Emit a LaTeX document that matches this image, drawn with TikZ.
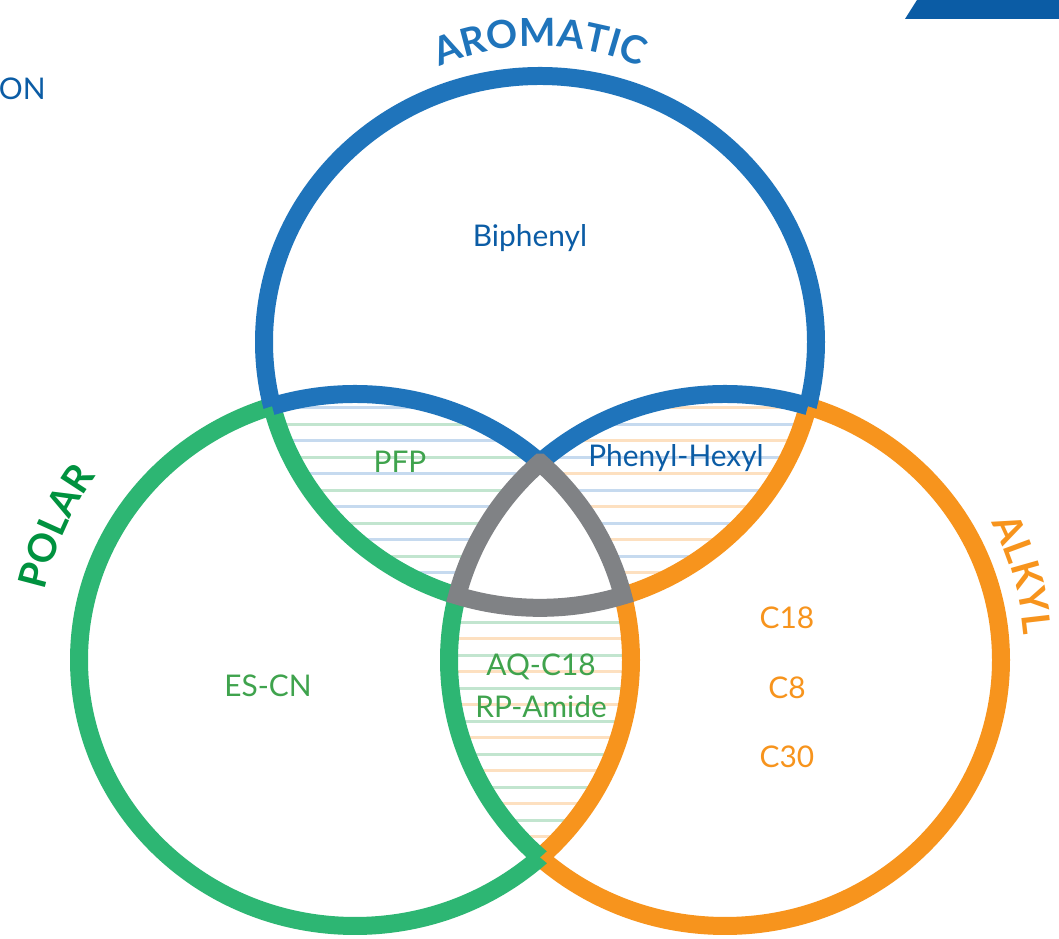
\documentclass[tikz,border=0pt]{standalone}
\usepackage{fontspec}
\setmainfont{Lato}
\usetikzlibrary{decorations.text}

\definecolor{aromblue}{HTML}{1F74BB}
\definecolor{textblue}{HTML}{0B5CA5}
\definecolor{polgreen}{HTML}{2DB673}
\definecolor{textgreen}{HTML}{3FA34D}
\definecolor{titlegreen}{HTML}{00923F}
\definecolor{alkorange}{HTML}{F7941D}
\definecolor{centgray}{HTML}{808285}
\definecolor{stripeblue}{HTML}{C6DAEF}
\definecolor{stripegreen}{HTML}{C2E5CF}
\definecolor{stripeorange}{HTML}{FDE0C0}

\newcommand{\blueE}{(540,597) ellipse [x radius=276, y radius=266]}
\newcommand{\greenE}{(355,279) ellipse [x radius=276, y radius=266]}
\newcommand{\orangeE}{(725,279) ellipse [x radius=276, y radius=266]}
\newcommand{\outside}{(-100,-100) rectangle (1160,1040)}

\begin{document}
\begin{tikzpicture}[x=0.02cm, y=0.02cm,
    ring/.style={line width=0.36cm},
    stripe/.style={line width=0.06cm},
    setname/.style={font=\fontsize{17}{20}\selectfont}]

\fill[white] (0,0) rectangle (1059,939);
\useasboundingbox (0,0) rectangle (1059,939);

% stripes in the two-way overlaps
\begin{scope}[even odd rule]
    \clip \blueE; \clip \greenE; \clip \outside \orangeE;
    \foreach \y in {531,498,...,40} \draw[stripe, stripeblue] (0,\y) -- (1059,\y);
    \foreach \y in {514.5,481.5,...,40} \draw[stripe, stripegreen] (0,\y) -- (1059,\y);
\end{scope}
\begin{scope}[even odd rule]
    \clip \blueE; \clip \orangeE; \clip \outside \greenE;
    \foreach \y in {531,498,...,40} \draw[stripe, stripeorange] (0,\y) -- (1059,\y);
    \foreach \y in {514.5,481.5,...,40} \draw[stripe, stripeblue] (0,\y) -- (1059,\y);
\end{scope}
\begin{scope}[even odd rule]
    \clip \greenE; \clip \orangeE; \clip \outside \blueE;
    \foreach \y in {531,498,...,40} \draw[stripe, stripeorange] (0,\y) -- (1059,\y);
    \foreach \y in {514.5,481.5,...,40} \draw[stripe, stripegreen] (0,\y) -- (1059,\y);
\end{scope}

% orange parts of the rings
\begin{scope}[even odd rule]
    \clip \outside \blueE; \clip \outside \greenE;
    \draw[ring, alkorange] \orangeE;
\end{scope}
\begin{scope}[even odd rule]
    \clip \orangeE; \clip \outside \greenE;
    \draw[ring, alkorange] \blueE;
\end{scope}
\begin{scope}[even odd rule]
    \clip \orangeE; \clip \outside \blueE;
    \draw[ring, alkorange] \greenE;
\end{scope}

% green parts
\begin{scope}[even odd rule]
    \clip \outside \blueE; \clip \outside \orangeE;
    \draw[ring, polgreen] \greenE;
\end{scope}
\begin{scope}[even odd rule]
    \clip \greenE; \clip \outside \orangeE;
    \draw[ring, polgreen] \blueE;
\end{scope}
\begin{scope}[even odd rule]
    \clip \greenE; \clip \outside \blueE;
    \draw[ring, polgreen] \orangeE;
\end{scope}

% blue parts
\begin{scope}[even odd rule]
    \clip \outside \greenE; \clip \outside \orangeE;
    \draw[ring, aromblue] \blueE;
\end{scope}
\begin{scope}[even odd rule]
    \clip \blueE; \clip \outside \orangeE;
    \draw[ring, aromblue] \greenE;
\end{scope}
\begin{scope}[even odd rule]
    \clip \blueE; \clip \outside \greenE;
    \draw[ring, aromblue] \orangeE;
\end{scope}

% centre
\draw[ring, centgray, line join=miter]
    (540,476.4) arc[start angle=132.1, end angle=166.0, x radius=276, y radius=266]
    arc[start angle=252.54, end angle=287.46, x radius=276, y radius=266]
    arc[start angle=14.0, end angle=47.9, x radius=276, y radius=266] -- cycle;

% category names
\path[decorate, decoration={text along path, text align=center, text color=aromblue,
    text={|\fontsize{22}{22}\selectfont\bfseries|AROMATIC}}]
    (540,643) ++(120:250) arc[start angle=120, end angle=60, radius=250];
\path[decorate, decoration={text along path, text align=center, text color=titlegreen,
    text={|\fontsize{22}{22}\selectfont\bfseries|POLAR}}]
    (355,279) ++(175:318) arc[start angle=175, end angle=137, radius=318];
\path[decorate, decoration={text along path, text align=center, text color=alkorange,
    text={|\fontsize{22}{22}\selectfont\bfseries|ALKYL}}]
    (725,279) ++(36:300) arc[start angle=36, end angle=-4, radius=300];

% phases
\node[setname, textblue] (biphenyl) at (530,701) {Biphenyl};
\node[setname, textgreen] (pfp) at (400,477) {PFP};
\node[setname, textblue] (phenylhexyl) at (676,481) {Phenyl-Hexyl};
\node[setname, textgreen] (escn) at (268,253) {ES-CN};
\node[setname, textgreen] (aqc) at (541,272) {AQ-C18};
\node[setname, textgreen] (rpamide) at (541,232) {RP-Amide};
\node[setname, alkorange] (ceighteen) at (787,321) {C18};
\node[setname, alkorange] (ceight) at (787,251) {C8};
\node[setname, alkorange] (cthirty) at (787,182) {C30};

% cut-off bits at the edges
\node[setname, textblue, anchor=east, inner sep=0pt] (oncut) at (46,850) {ON};
\fill[textblue] (905,920) -- (917,939) -- (1059,939) -- (1059,920) -- cycle;
\end{tikzpicture}
\end{document}
